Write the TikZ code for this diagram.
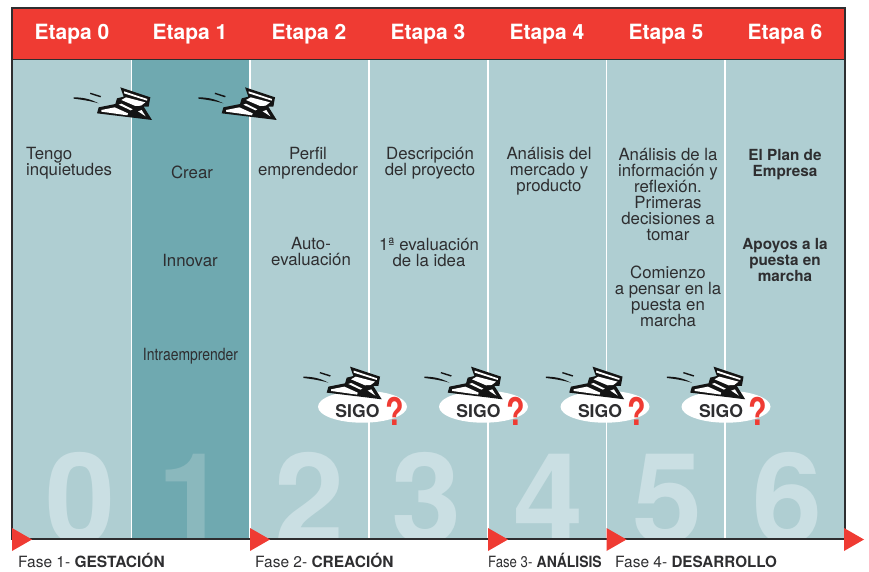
\documentclass[tikz,border=0pt]{standalone}
\usepackage{fontspec}
\usepackage{graphicx}
\setmainfont{TeX Gyre Heros}
\definecolor{lightc}{HTML}{AFCED2}
\definecolor{darkc}{HTML}{6FA9B0}
\definecolor{redc}{HTML}{EF3B33}
\definecolor{digl}{HTML}{CADFE3}
\definecolor{digd}{HTML}{8AB8BD}
\definecolor{inkc}{HTML}{2E2E30}
\tikzset{
  body/.style={font=\fontsize{16.8}{16}\selectfont,align=center,text=inkc,inner sep=0pt},
  bodyb/.style={body,font=\fontsize{15.3}{16}\selectfont\bfseries},
  head/.style={font=\fontsize{21}{21}\selectfont\bfseries,text=white,inner sep=0pt},
  digit/.style={font=\fontsize{126}{126}\selectfont\bfseries,text=digl,inner sep=0pt,anchor=base},
  fase/.style={font=\fontsize{15.5}{16}\selectfont,text=inkc,inner sep=0pt,anchor=base west},
  sep/.style={white,line width=1.5pt},
  frameline/.style={inkc,line width=1.1pt},
  tri/.style={fill=redc,draw=none},
  sigotxt/.style={font=\fontsize{17.6}{16}\selectfont\bfseries,text=inkc,inner sep=0pt},
  qmark/.style={font=\fontsize{38}{38}\selectfont\bfseries,text=redc,inner sep=0pt},
  plane/.pic={
    \begin{scope}[x=0.3333pt,y=-0.3333pt]
      \fill[black!92] (-95,-98) -- (-5,-68) -- (-10,-40) -- (-25,-40) -- (0,0) -- (-65,-8) -- (-165,-20) -- (-160,-38) -- (-110,-48) -- (-105,-65) -- (-85,-70) -- cycle;
      \fill[white] (-84,-86) -- (-14,-63) -- (-15,-58) -- (-84,-80) -- cycle;
      \fill[white] (-92,-60) -- (-78,-68) -- (-20,-53) -- (-33,-43) -- (-50,-42) -- cycle;
      \fill[white] (-152,-30) -- (-112,-38) -- (-72,-20) -- (-74,-14) -- (-152,-25) -- cycle;
      \fill[white] (-100,-46) -- (-92,-49) -- (-58,-32) -- (-64,-29) -- cycle;
      \fill[white] (-42,-26) -- (-31,-30) -- (-19,-11) -- cycle;
      \fill[black!92] (-235,-68) .. controls (-200,-68) and (-180,-60) .. (-160,-50) .. controls (-185,-57) and (-210,-61) .. (-235,-64) -- cycle;
      \fill[black!92] (-185,-82) -- (-153,-72) -- (-155,-68) -- (-186,-78) -- cycle;
    \end{scope}
  }
}
\begin{document}
\begin{tikzpicture}[x=1pt,y=-1pt]
\useasboundingbox (0,0) rectangle (869,572);
% background
\fill[lightc] (12,59) rectangle (845,539);
\fill[darkc] (131.5,59) rectangle (250,539);
\fill[redc] (12,8) rectangle (845,59);
% digits
\begin{scope}
  \clip (12,59) rectangle (845,539);
  \node[digit] (d0) at (80.5,543.5) {0};
  \node[digit,text=digd] (d1) at (193,543.5) {1};
  \node[digit] (d2) at (310,543.5) {2};
  \node[digit] (d3) at (427,543.5) {3};
  \node[digit] (d4) at (549,543.5) {4};
  \node[digit] (d5) at (667.5,543.5) {5};
  \node[digit] (d6) at (788,543.5) {6};
\end{scope}
% column separators
\foreach \x in {131.5,250,369,488,606.5,725} \draw[sep] (\x,60) -- (\x,538.5);
% frame
\draw[frameline] (12,539) -- (12,8) -- (845,8) -- (845,539) -- cycle;
\draw[frameline] (12,59.5) -- (845,59.5);
% headers
\node[head] (h0) at (72,34.5) {Etapa 0};
\node[head] (h1) at (190,34.5) {Etapa 1};
\node[head] (h2) at (309,34.5) {Etapa 2};
\node[head] (h3) at (428,34.5) {Etapa 3};
\node[head] (h4) at (547,34.5) {Etapa 4};
\node[head] (h5) at (666,34.5) {Etapa 5};
\node[head] (h6) at (785,34.5) {Etapa 6};
% planes
\pic at (152,120) {plane};
\pic at (276.7,120) {plane};
% SIGO
\foreach \i/\ex/\tx/\qx/\px in {a/362.5/357.5/394.5/381.7,b/483.5/478.5/515.5/502.7,c/605/600/637/624.2,d/726/721/758/745.2}{
  \fill[white] (\ex,406.7) ellipse [x radius=44.5,y radius=16];
  \pic at (\px,399.3) {plane};
  \node[sigotxt] (sigo\i) at (\tx,411) {SIGO};
  \node[qmark] (q\i) at (\qx,411) {\scalebox{0.8}[1]{?}};
}
% texts
\node[body,align=left,anchor=west] (t0) at (26,163.5) {Tengo\\inquietudes};
\node[body] (t1a) at (192,172) {Crear};
\node[body] (t1b) at (190,261) {Innovar};
\node[body] (t1c) at (190.5,356) {\scalebox{0.83}[1]{Intraemprender}};
\node[body] (t2a) at (308,163.5) {Perfil\\emprendedor};
\node[body] (t2b) at (311,252) {Auto-\\evaluación};
\node[body] (t3a) at (430,163.5) {Descripción\\del proyecto};
\node[body] (t3b) at (429,252) {1ª evaluación\\de la idea};
\node[body] (t4) at (549,171.5) {Análisis del\\mercado y\\producto};
\node[body] (t5a) at (668,194.5) {Análisis de la\\información y\\reflexión.\\Primeras\\decisiones a\\tomar};
\node[body] (t5b) at (668,296.5) {Comienzo\\a pensar en la\\puesta en\\marcha};
\node[bodyb] (t6a) at (785,165) {El Plan de\\Empresa};
\node[bodyb] (t6b) at (785,260) {Apoyos a la\\puesta en\\marcha};
% phase markers
\fill[tri] (12,528) -- (32,539.5) -- (12,551) -- cycle;
\fill[tri] (250,528) -- (270,539.5) -- (250,551) -- cycle;
\fill[tri] (488,528) -- (508,539.5) -- (488,551) -- cycle;
\fill[tri] (606.5,528) -- (626.5,539.5) -- (606.5,551) -- cycle;
\fill[tri] (844,528) -- (864,539.5) -- (844,551) -- cycle;
% phase labels
\node[fase] (f1) at (18,567) {Fase 1- \textbf{GESTACIÓN}};
\node[fase] (f2) at (255,567) {Fase 2- \textbf{CREACIÓN}};
\node[fase] (f3) at (488,567) {\scalebox{0.85}[1]{Fase 3-} \textbf{\scalebox{0.9}[1]{ANÁLISIS}}};
\node[fase] (f4) at (615,567) {Fase 4- \textbf{\scalebox{0.98}[1]{DESARROLLO}}};
\end{tikzpicture}
\end{document}
